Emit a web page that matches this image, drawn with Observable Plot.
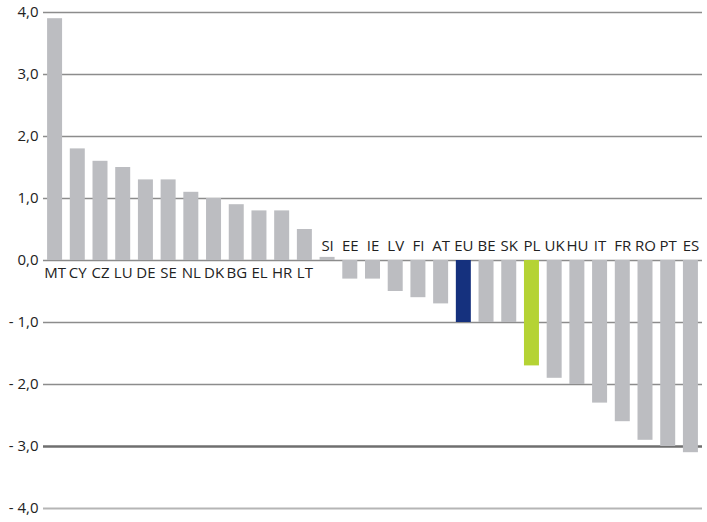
<!DOCTYPE html>
<html>
<head>
<meta charset="utf-8">
<script src="https://cdn.jsdelivr.net/npm/d3@7"></script>
<script src="https://cdn.jsdelivr.net/npm/@observablehq/plot@0.6"></script>
<style>
  html, body { margin: 0; padding: 0; background: #fff; }
  svg { display: block; }
</style>
</head>
<body>
<div id="chart"></div>
<script>
const countries = ["MT","CY","CZ","LU","DE","SE","NL","DK","BG","EL","HR","LT","SI","EE","IE","LV","FI","AT","EU","BE","SK","PL","UK","HU","IT","FR","RO","PT","ES"];
const values = [3.9,1.8,1.6,1.5,1.3,1.3,1.1,1.0,0.9,0.8,0.8,0.5,0.05,-0.3,-0.3,-0.5,-0.6,-0.7,-1.0,-1.0,-1.0,-1.7,-1.9,-2.0,-2.3,-2.6,-2.9,-3.0,-3.1];
const labelBelow = [true,true,true,true,true,true,true,true,true,true,true,true,false,false,false,false,false,false,false,false,false,false,false,false,false,false,false,false,false];
const yTicks = [4,3,2,1,0,-1,-2,-3,-4];
const highlight = {EU: "#15317e", PL: "#b5d334"};
const baseColor = "#bcbdc1";

const data = countries.map((c, i) => ({country: c, value: values[i], below: labelBelow[i]}));
const fmt = d => (d < 0 ? "- " : "") + Math.abs(d).toFixed(1).replace(".", ",");
const font = "'Open Sans', sans-serif";

const chart = Plot.plot({
  width: 707,
  height: 522,
  marginTop: 12,
  marginBottom: 14,
  marginLeft: 43,
  marginRight: 5,
  style: {fontFamily: font, fontSize: "15px", color: "#222", background: "#fff"},
  x: {domain: countries, paddingInner: 0.34, paddingOuter: 0.18, round: false, axis: null},
  y: {domain: [-4, 4], axis: null},
  marks: [
    Plot.ruleY(yTicks.filter(d => d !== -3 && d !== -4), {stroke: "#8c8c8c", strokeWidth: 1.5}),
    Plot.ruleY([-3], {stroke: "#6f6f6f", strokeWidth: 2.5}),
    Plot.ruleY([-4], {stroke: "#b5b5b5", strokeWidth: 2}),
    Plot.barY(data, {x: "country", y: "value", fill: d => highlight[d.country] || baseColor}),
    Plot.text(data.filter(d => d.below), {x: "country", y: 0, text: "country", dy: 13, fontSize: 15, fill: "#222", fontFamily: font, letterSpacing: "-0.6px"}),
    Plot.text(data.filter(d => !d.below), {x: "country", y: 0, text: "country", dy: -14, fontSize: 15, fill: "#222", fontFamily: font, letterSpacing: "-0.6px"}),
    Plot.axisY(yTicks, {label: null, tickSize: 0, tickPadding: 5, tickFormat: fmt, fontSize: 15, fill: "#222", letterSpacing: "-0.6px"})
  ]
});
document.getElementById("chart").appendChild(chart);
</script>
</body>
</html>
